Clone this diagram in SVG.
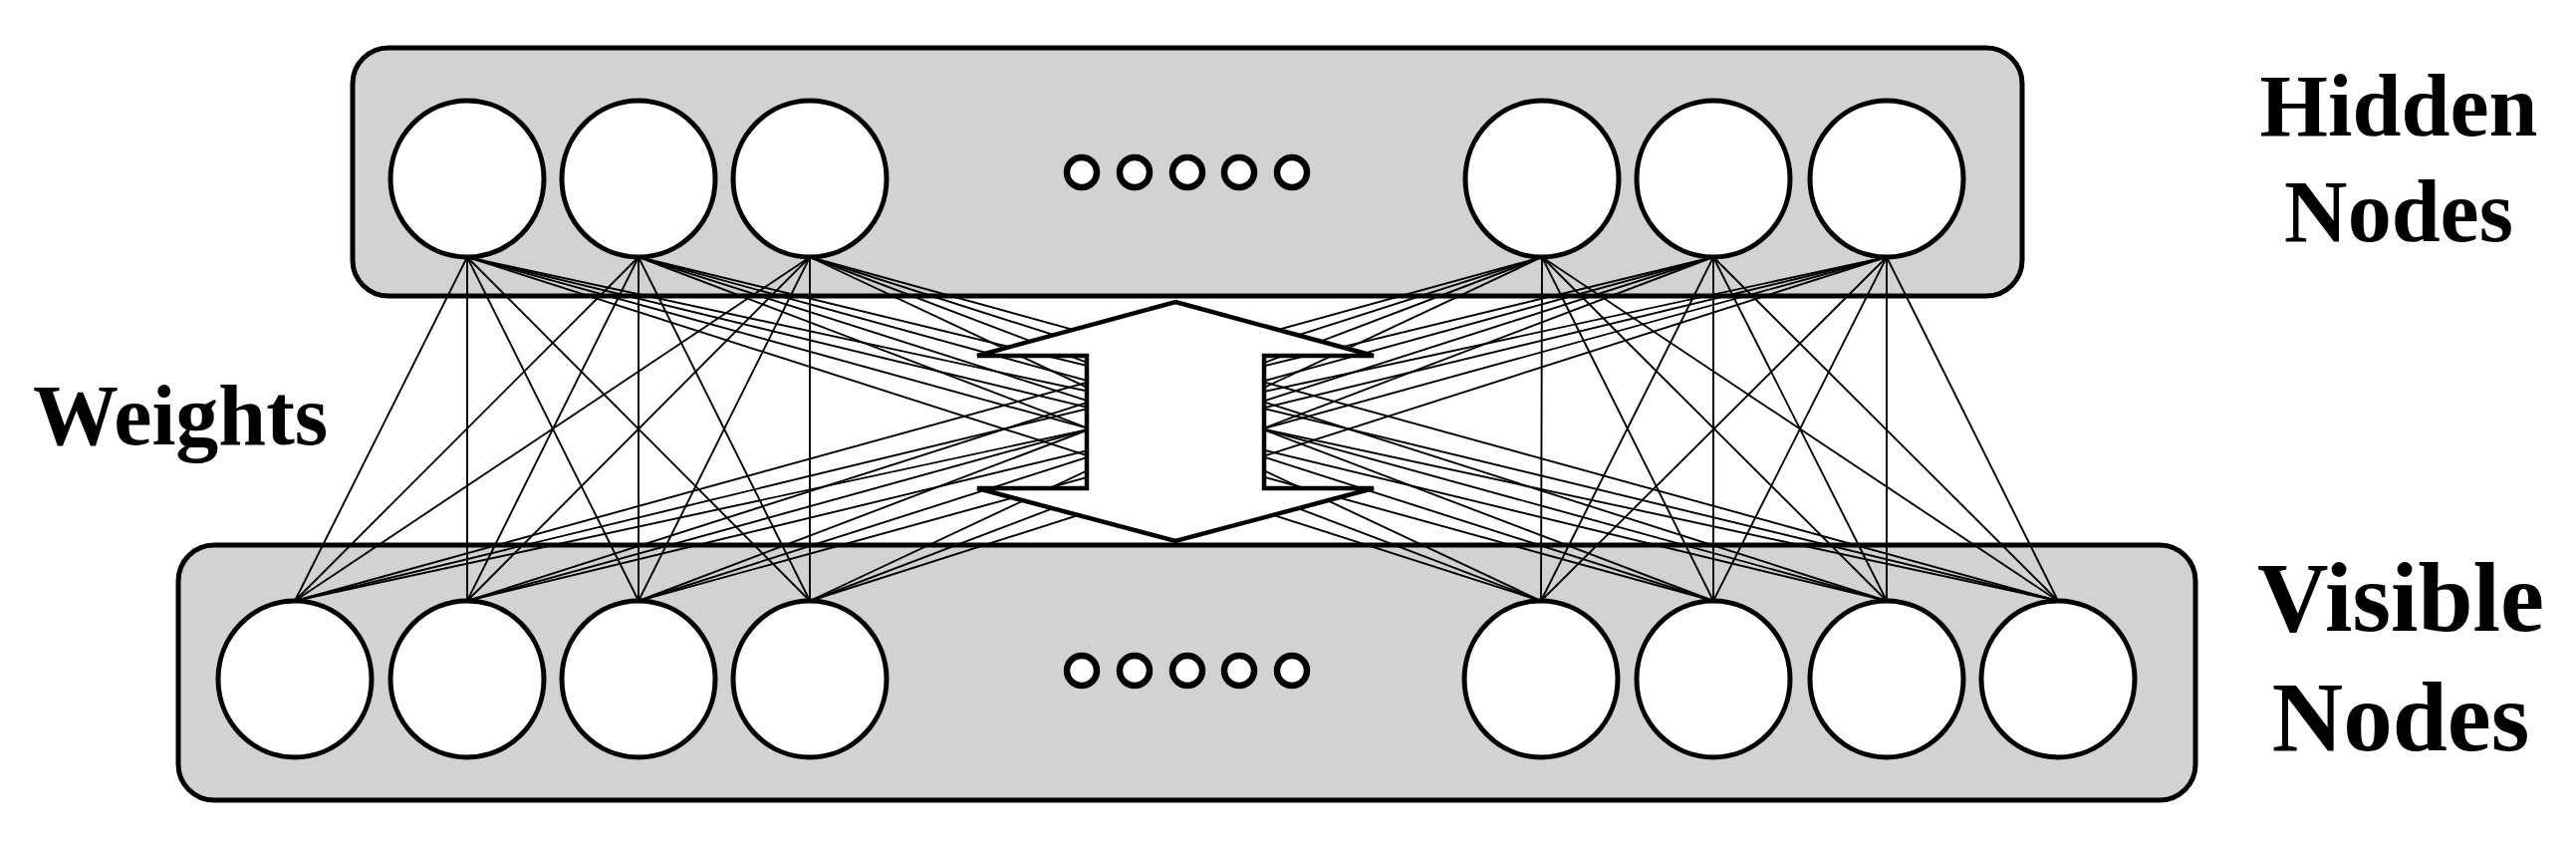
<svg xmlns="http://www.w3.org/2000/svg" width="2586" height="848" viewBox="0 0 2586 848">
<style>
.box{fill:#d2d2d2;stroke:#000;stroke-width:5}
.node{fill:#fff;stroke:#000;stroke-width:5}
.dot{fill:#fff;stroke:#000;stroke-width:6.5}
.w{stroke:#000;stroke-width:1.9;fill:none}
.arrow{fill:#fff;stroke:#000;stroke-width:4.5;stroke-linejoin:miter}
.lbl{font-family:"Liberation Serif","Times New Roman",serif;font-weight:bold;fill:#000}
</style>
<rect width="2586" height="848" fill="#fff"/>
<g id="hidden-layer">
<rect class="box" x="354" y="48" width="1676" height="249" rx="36"/>
<g id="h1"><ellipse class="node" cx="469" cy="179.5" rx="77" ry="78.5"/></g>
<g id="h2"><ellipse class="node" cx="641" cy="179.5" rx="77" ry="78.5"/></g>
<g id="h3"><ellipse class="node" cx="813" cy="179.5" rx="77" ry="78.5"/></g>
<g id="h4"><ellipse class="node" cx="1548" cy="179.5" rx="77" ry="78.5"/></g>
<g id="h5"><ellipse class="node" cx="1720" cy="179.5" rx="77" ry="78.5"/></g>
<g id="h6"><ellipse class="node" cx="1894" cy="179.5" rx="77" ry="78.5"/></g>
<g id="hidden-dots">
<circle class="dot" cx="1086" cy="173" r="15"/>
<circle class="dot" cx="1139" cy="173" r="15"/>
<circle class="dot" cx="1192" cy="173" r="15"/>
<circle class="dot" cx="1244" cy="173" r="15"/>
<circle class="dot" cx="1297" cy="173" r="15"/>
</g>
</g>
<g id="visible-layer">
<rect class="box" x="179" y="547" width="2025" height="256" rx="36"/>
<g id="v1"><ellipse class="node" cx="296" cy="681.5" rx="77" ry="78.5"/></g>
<g id="v2"><ellipse class="node" cx="469" cy="681.5" rx="77" ry="78.5"/></g>
<g id="v3"><ellipse class="node" cx="641" cy="681.5" rx="77" ry="78.5"/></g>
<g id="v4"><ellipse class="node" cx="813" cy="681.5" rx="77" ry="78.5"/></g>
<g id="v5"><ellipse class="node" cx="1547" cy="681.5" rx="77" ry="78.5"/></g>
<g id="v6"><ellipse class="node" cx="1720" cy="681.5" rx="77" ry="78.5"/></g>
<g id="v7"><ellipse class="node" cx="1894" cy="681.5" rx="77" ry="78.5"/></g>
<g id="v8"><ellipse class="node" cx="2066" cy="681.5" rx="77" ry="78.5"/></g>
<g id="visible-dots">
<circle class="dot" cx="1086" cy="673" r="15"/>
<circle class="dot" cx="1139" cy="673" r="15"/>
<circle class="dot" cx="1192" cy="673" r="15"/>
<circle class="dot" cx="1244" cy="673" r="15"/>
<circle class="dot" cx="1297" cy="673" r="15"/>
</g>
</g>
<g id="connectors">
<line class="w" x1="469" y1="258" x2="296" y2="603"/>
<line class="w" x1="469" y1="258" x2="469" y2="603"/>
<line class="w" x1="469" y1="258" x2="641" y2="603"/>
<line class="w" x1="469" y1="258" x2="813" y2="603"/>
<line class="w" x1="469" y1="258" x2="1547" y2="603"/>
<line class="w" x1="469" y1="258" x2="1720" y2="603"/>
<line class="w" x1="469" y1="258" x2="1894" y2="603"/>
<line class="w" x1="469" y1="258" x2="2066" y2="603"/>
<line class="w" x1="641" y1="258" x2="296" y2="603"/>
<line class="w" x1="641" y1="258" x2="469" y2="603"/>
<line class="w" x1="641" y1="258" x2="641" y2="603"/>
<line class="w" x1="641" y1="258" x2="813" y2="603"/>
<line class="w" x1="641" y1="258" x2="1547" y2="603"/>
<line class="w" x1="641" y1="258" x2="1720" y2="603"/>
<line class="w" x1="641" y1="258" x2="1894" y2="603"/>
<line class="w" x1="641" y1="258" x2="2066" y2="603"/>
<line class="w" x1="813" y1="258" x2="296" y2="603"/>
<line class="w" x1="813" y1="258" x2="469" y2="603"/>
<line class="w" x1="813" y1="258" x2="641" y2="603"/>
<line class="w" x1="813" y1="258" x2="813" y2="603"/>
<line class="w" x1="813" y1="258" x2="1547" y2="603"/>
<line class="w" x1="813" y1="258" x2="1720" y2="603"/>
<line class="w" x1="813" y1="258" x2="1894" y2="603"/>
<line class="w" x1="813" y1="258" x2="2066" y2="603"/>
<line class="w" x1="1548" y1="258" x2="296" y2="603"/>
<line class="w" x1="1548" y1="258" x2="469" y2="603"/>
<line class="w" x1="1548" y1="258" x2="641" y2="603"/>
<line class="w" x1="1548" y1="258" x2="813" y2="603"/>
<line class="w" x1="1548" y1="258" x2="1547" y2="603"/>
<line class="w" x1="1548" y1="258" x2="1720" y2="603"/>
<line class="w" x1="1548" y1="258" x2="1894" y2="603"/>
<line class="w" x1="1548" y1="258" x2="2066" y2="603"/>
<line class="w" x1="1720" y1="258" x2="296" y2="603"/>
<line class="w" x1="1720" y1="258" x2="469" y2="603"/>
<line class="w" x1="1720" y1="258" x2="641" y2="603"/>
<line class="w" x1="1720" y1="258" x2="813" y2="603"/>
<line class="w" x1="1720" y1="258" x2="1547" y2="603"/>
<line class="w" x1="1720" y1="258" x2="1720" y2="603"/>
<line class="w" x1="1720" y1="258" x2="1894" y2="603"/>
<line class="w" x1="1720" y1="258" x2="2066" y2="603"/>
<line class="w" x1="1894" y1="258" x2="296" y2="603"/>
<line class="w" x1="1894" y1="258" x2="469" y2="603"/>
<line class="w" x1="1894" y1="258" x2="641" y2="603"/>
<line class="w" x1="1894" y1="258" x2="813" y2="603"/>
<line class="w" x1="1894" y1="258" x2="1547" y2="603"/>
<line class="w" x1="1894" y1="258" x2="1720" y2="603"/>
<line class="w" x1="1894" y1="258" x2="1894" y2="603"/>
<line class="w" x1="1894" y1="258" x2="2066" y2="603"/>
</g>
<g id="double-arrow">
<polygon class="arrow" points="1180,303 1379,357 1269,357 1269,490 1379,490 1180,543 981,490 1091,490 1091,357 981,357"/>
</g>
<g id="labels">
<text class="lbl" x="33" y="446" font-size="86">Weights</text>
<text class="lbl" x="2408" y="136" font-size="88" text-anchor="middle">Hidden</text>
<text class="lbl" x="2408" y="242" font-size="88" text-anchor="middle">Nodes</text>
<text class="lbl" x="2410" y="633" font-size="99" text-anchor="middle">Visible</text>
<text class="lbl" x="2410" y="753" font-size="99" text-anchor="middle">Nodes</text>
</g>
</svg>
